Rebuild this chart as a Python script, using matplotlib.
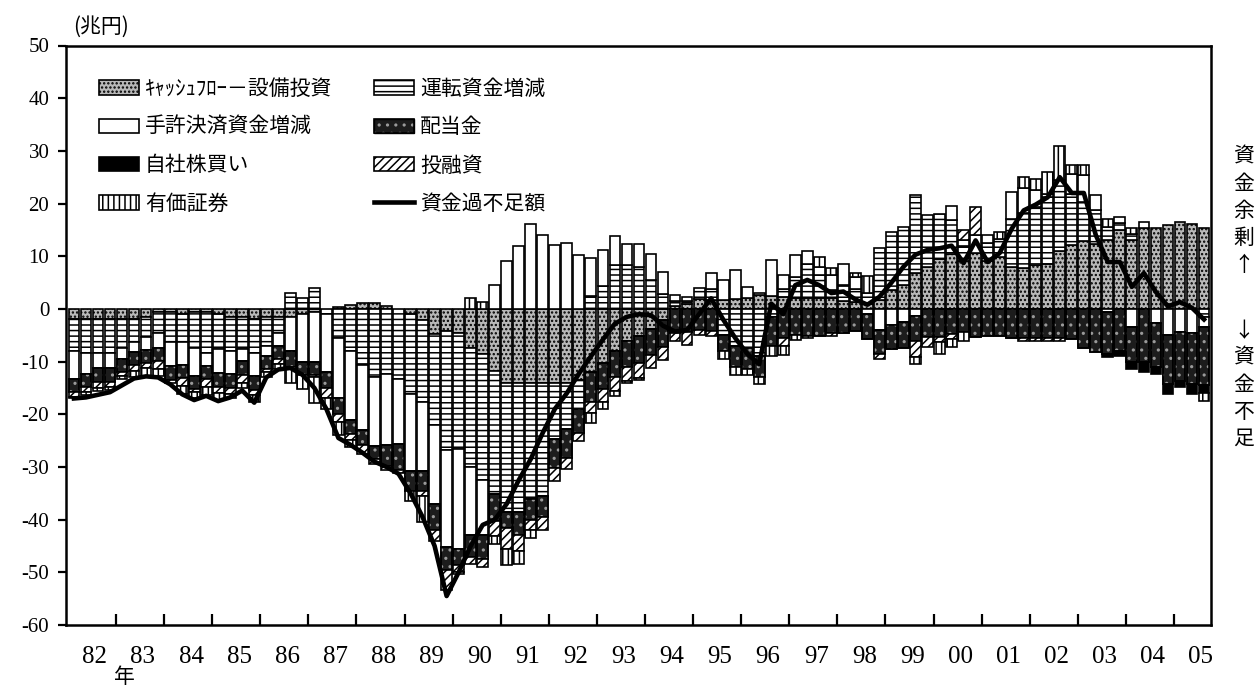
import numpy as np
import matplotlib.pyplot as plt
from matplotlib.patches import Patch
from matplotlib.lines import Line2D

plt.rcParams['font.family'] = ['Noto Sans CJK JP', 'DejaVu Sans']
plt.rcParams['axes.unicode_minus'] = False
plt.rcParams['hatch.linewidth'] = 1.1

# quarterly data, 1982Q1 .. 2005Q3 (兆円)
first_year = 1982
year_labels = ['82', '83', '84', '85', '86', '87', '88', '89', '90', '91', '92', '93',
               '94', '95', '96', '97', '98', '99', '00', '01', '02', '03', '04', '05']

cf_capex = [
    -2, -2, -2, -2,  -2, -2, -1.5, -0.5,  -0.5, -1, -0.5, -0.5,  -1, -1.5, -1.5, -2,
    -1.5, -1.5, -1.5, -1,  -0.5, 0, 0.3, 0.8,  1.2, 1.2, 0.5, 0,  -1, -2.2, -4.7, -4.1,
    -4.5, -7.5, -8.5, -11.8,  -14, -14, -14, -14,  -14, -14, -13.4, -12,  -10.2, -8, -6.1, -5.2,
    -3.8, -2.2, 0.5, 1,  1.8, 1.7, 1.7, 1.8,  2, 2.6, 2.4, 2.2,  2, 2, 2, 2,
    1.5, 1.3, 1, 1.7,  3.6, 4.5, 6.8, 8,  9.4, 10.4, 9, 10.7,  9, 9.9, 8, 7.7,
    8.3, 8.6, 10.9, 12.1,  12.8, 12.4, 13.1, 15,  13.1, 15.3, 15.3, 15.9,  16.5, 16.1, 15.3,
]
working_cap = [
    -6, -6.3, -6.3, -6.3,  -5.5, -4.2, -3.8, -4.1,  -5.7, -5.2, -6.9, -7.8,  -6.7, -6.5, -6.2, -6.3,
    -5.5, -3, 3, 2,  4, -1, -5.5, -8,  -10.7, -13, -12.3, -13.3,  -15.2, -15.5, -17.4, -22.7,
    -22.1, -22.5, -24, -23.4,  -24.6, -24.5, -22, -21.5,  -10.7, -8.8, -5.6, 2.5,  4.3, 8.4, 8.4, 8,
    5.4, 2.8, 1, 0.5,  2.1, 2, -5, -7,  -7.5, -9, -1.5, 1.5,  4, 6.5, 4.5, 1.5,
    3, 2.5, 2, 9.8,  11, 11.1, 14.8, 9.8,  8.7, 6.4, 3, 0,  3.5, 3.4, 9, 10.6,
    11.1, 12.7, 13.5, 9.8,  7.5, 6.4, 2.5, 1.3,  1.2, 0, 0, 0,  0, 0, -1.5,
]
cash = [
    -5.3, -4, -3, -3,  -2, -2, -2.5, -2.8,  -4.7, -4.5, -5.3, -2.5,  -4.4, -4.4, -2.2, -4.4,
    -2, -2.5, -6.5, -9,  -9.5, -11, -11.5, -13,  -12.3, -13, -13.6, -12.3,  -14.5, -13, -14.9, -18.3,
    -18.9, -13, -10.5, 4.6,  9, 11.9, 16.2, 14.1,  12.2, 12.5, 10.3, 7.2,  6.9, 5.5, 4, 4.3,
    5, 4.3, 1.2, 0.8,  0, 3.2, 3.8, 5.5,  2.2, 0.4, 6.9, 2.7,  4.2, 2.4, 1.5, 3,
    4.1, 2.2, -1, -4,  -3, -2.5, -1.3, 0,  0, 2.7, 1, 3.3,  1.5, 0, 5.2, 4.6,
    3.1, 0.6, 0, 3.8,  5.1, 2.8, -0.6, 1.2,  -3.5, 1.2, -2.6, -5,  -4.4, -4.5, -2,
]
dividends = [
    -2.5, -2.5, -2.5, -2.5,  -2.5, -2.5, -2.5, -2.5,  -2.5, -2.5, -2.5, -2.5,  -2.7, -2.7, -2.7, -2.7,
    -2.5, -2.5, -3, -2.5,  -2.5, -3, -3, -2.8,  -2.8, -2.5, -4, -5,  -3.8, -3.8, -5, -4.4,
    -3.2, -4, -4.5, -5,  -3, -4.5, -4, -4,  -5.5, -5.5, -4.5, -5.7,  -5, -5, -5, -5,
    -5, -5, -4.5, -4.4,  -4, -4.2, -3, -4,  -4, -4, -5.5, -5.5,  -5, -5.1, -5.2, -4.5,
    -4.5, -4.2, -4.8, -4.5,  -4.6, -5, -4.7, -5.4,  -5.4, -4.7, -4.4, -5.4,  -5.2, -5.2, -5.5, -5.6,
    -5.6, -5.6, -5.5, -5.8,  -7.4, -8.2, -7.9, -8,  -6.5, -10, -8.5, -9.2,  -9.2, -9.7, -11,
]
buyback = [
    0, 0, 0, 0,  0, 0, 0, 0,  0, 0, 0, 0,  0, 0, 0, 0,
    0, 0, 0, 0,  0, 0, 0, 0,  0, 0, 0, 0,  0, 0, 0, 0,
    0, 0, 0, 0,  0, 0, 0, 0,  0, 0, 0, 0,  0, 0, 0, 0,
    0, 0, 0, 0,  0, 0, 0, 0,  0, 0, 0, 0,  0, 0, 0, 0,
    0, 0, 0, 0,  0, 0, 0, 0,  0, 0, 0, 0,  0, 0, 0, 0,
    0, 0, 0, 0,  0, 0, -0.6, -1,  -1.5, -1.9, -1.2, -1.9,  -1.2, -1.9, -1.5,
]
investment = [
    -1, -1, -1.2, -1,  -0.8, -1, -1, -1.5,  -0.6, -1.5, -0.5, -1.5,  -1.2, -1, -1.5, -1,
    -0.5, -1, -0.5, 0,  -0.5, -2, -1.5, -1,  -1.8, -1, -0.6, -0.6,  0, -1, -2, -3.8,
    -1.3, -1.5, -1.5, -3,  -4, -3, -2, -2.5,  -2.5, -2, -1.5, -2,  -2.5, -2.5, -2.5, -3,
    -2.5, -2.5, -1.5, -2.5,  -0.9, -1, 0, 0,  0, 0, 0, -1.5,  0, 0, 0, -0.7,
    0, 0, 0, -1.1,  0, 0, -3.2, -1.9,  -0.8, -1, 2, 5.3,  0, 0, 0, -0.4,
    -0.4, -0.4, -0.5, 0,  0, 0, 0, 0,  0, 0, 0, 0,  0, 0, 0,
]
securities = [
    -0.2, -0.5, -0.5, -0.5,  -0.5, -1.3, -1.7, -1.4,  0, -1.5, -1.3, -1.5,  -1.2, -0.8, -1, -1.2,
    -1, -1, -2.5, -2.7,  -4.8, -2, -2.5, -1.5,  0, 0, 0, 0,  -1.9, -5, 0, 0,
    -0.4, 2, 1.3, -1.5,  -3, -2.5, -1.5, 0,  0, 0, 0, -1.9,  -1.3, -1, -0.4, -0.2,
    0, 0, 0, 0,  0, 0, -1.5, -1.6,  -1.1, -1.2, -2, -1.7,  -0.9, -0.5, 1.9, 1.2,
    0, 0.9, 3.3, 0,  0, 0, -1.3, 0,  -2.4, -1.6, -1.6, 0,  0, 1.3, 0, 2.1,
    2.2, 4.1, 6.6, 1.6,  1.9, 0, 1.4, 0,  1, 0, 0, 0,  0, 0, -1.4,
]
net_balance = [
    -17, -16.8, -16.3, -15.8,  -14.5, -13.2, -12.8, -13,  -14.3, -16.2, -17.3, -16.5,  -17.5, -16.8, -15.5, -17.8,
    -13, -11.5, -11.2, -12.5,  -15, -19, -24.5, -25.8,  -27.3, -29, -30, -31.3,  -35, -39.5, -45, -54.5,
    -50, -45, -41, -40,  -37, -32.5, -28.5, -23.5,  -19, -16, -12.3, -9,  -5.8, -2.8, -1.5, -1,
    -1.2, -3.2, -4.3, -4,  -1, 2, -2, -5.5,  -8.5, -10.5, 1, -1,  4.5, 5.5, 4.5, 3,
    3.3, 1.8, 0.8, 2.3,  5, 8, 10.3, 11.2,  11.5, 12, 8.7, 13,  8.9, 10.6, 15.2, 18.7,
    19.8, 21.2, 25, 22,  22, 14, 8.9, 8.9,  4.2, 6.8, 3.2, 0.5,  1.3, 0.2, -2,
]

n = len(net_balance)
x = first_year + np.arange(n) / 4 + 0.125

fig = plt.figure(figsize=(12.55, 6.89), dpi=100)
ax = fig.add_axes([66 / 1255, 1 - 625 / 689, (1211 - 66) / 1255, (625 - 45.5) / 689])

styles = [
    ('ｷｬｯｼｭﾌﾛｰ－設備投資', cf_capex, dict(facecolor='#b8b8b8', hatch='....')),
    ('運転資金増減', working_cap, dict(facecolor='white', hatch='---')),
    ('手許決済資金増減', cash, dict(facecolor='white')),
    ('配当金', dividends, dict(facecolor='#1c1c1c')),
    ('自社株買い', buyback, dict(facecolor='black')),
    ('投融資', investment, dict(facecolor='white', hatch='////')),
    ('有価証券', securities, dict(facecolor='white', hatch='|||')),
]

width = 0.225
lw = 1.2
pos_base = np.zeros(n)
neg_base = np.zeros(n)
handles = {}
for label, vals, kw in styles:
    v = np.array(vals, dtype=float)
    base = np.where(v >= 0, pos_base, neg_base)
    m = v != 0
    ax.bar(x[m], v[m], width, bottom=base[m], edgecolor='black', linewidth=lw, **kw)
    if label == '配当金':
        # light stipple on the dark fill
        ax.bar(x[m], v[m], width, bottom=base[m], facecolor='none', edgecolor='#9a9a9a',
               hatch='..', linewidth=0)
        ax.bar(x[m], v[m], width, bottom=base[m], facecolor='none', edgecolor='black', linewidth=lw)
        handles[label] = (Patch(facecolor='#1c1c1c', edgecolor='black'),
                          Patch(facecolor='none', edgecolor='#9a9a9a', hatch='..', linewidth=0),
                          Patch(facecolor='none', edgecolor='black', linewidth=lw))
    else:
        handles[label] = Patch(edgecolor='black', linewidth=lw, **kw)
    pos_base += np.clip(v, 0, None)
    neg_base += np.clip(v, None, 0)

ax.plot(x, net_balance, color='black', linewidth=3.3, solid_joinstyle='round', zorder=5)
handles['資金過不足額'] = Line2D([], [], color='black', linewidth=3.3)

order = ['ｷｬｯｼｭﾌﾛｰ－設備投資', '手許決済資金増減', '自社株買い', '有価証券',
         '運転資金増減', '配当金', '投融資', '資金過不足額']
ax.legend([handles[k] for k in order], order, ncol=2, loc='upper left',
          bbox_to_anchor=(0.029, 0.944), frameon=False, fontsize=15,
          handlelength=1.9, handleheight=0.7, handletextpad=0.3,
          labelspacing=0.78, columnspacing=2.0, borderaxespad=0, borderpad=0)

ax.set_xlim(1981.96, 2005.77)
ax.set_ylim(-60, 50)
ax.set_yticks(np.arange(-60, 51, 10))
ax.set_xticks(np.arange(first_year + 1, 2006))
ax.set_xticks(np.arange(first_year, 2006) + 0.56, minor=True)
ax.set_xticklabels([], minor=False)
ax.set_xticklabels(year_labels, minor=True)
ax.tick_params(axis='x', which='major', direction='in', length=8, width=1.6)
ax.tick_params(axis='x', which='minor', length=0, pad=15, labelsize=18)
ax.tick_params(axis='y', direction='out', length=6, width=1.6, labelsize=15, pad=6)
for lbl in ax.get_yticklabels() + ax.get_xticklabels(minor=True):
    lbl.set_fontfamily('Liberation Serif')
for s in ax.spines.values():
    s.set_linewidth(1.8)

fig.text(73 / 1255, 1 - 27 / 689, '(兆円)', fontsize=15, va='center', ha='left')
fig.text(124 / 1255, 1 - 677 / 689, '年', fontsize=15, va='center', ha='center')
fig.text(1244 / 1255, 1 - 146 / 689, '\n'.join('資金余剰↑'), fontsize=15,
         va='top', ha='center', linespacing=1.29)
fig.text(1244 / 1255, 1 - 320 / 689, '\n'.join('↓資金不足'), fontsize=15,
         va='top', ha='center', linespacing=1.29)

fig.savefig('out.png', dpi=100)
